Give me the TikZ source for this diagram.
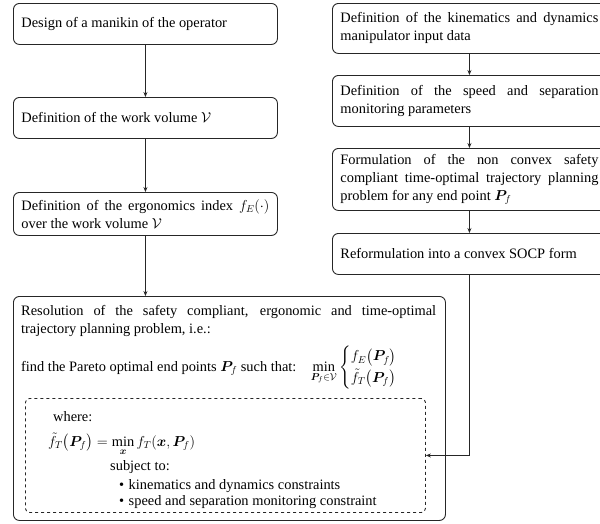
\documentclass[tikz,border=0pt]{standalone}
\usepackage{amsmath}
\usepackage{bm}
\usepackage{fontspec}
\setmainfont{Liberation Serif}
\usetikzlibrary{arrows.meta}
% justified box texts break only between words
\hyphenpenalty=10000
\exhyphenpenalty=10000
\tolerance=10000
\emergencystretch=20pt
\begin{document}
\begin{tikzpicture}[x=1pt,y=-1pt,
  font=\fontsize{14.4}{18}\selectfont,
  frame/.style={draw=black!85, line width=0.9pt, rounded corners=6pt,
    anchor=north west, inner sep=0pt},
  stepbox/.style={frame, inner xsep=8pt, align=justify},
  leftbox/.style={stepbox, text width=248pt, minimum width=264pt},
  rightbox/.style={stepbox, text width=258pt, minimum width=274pt},
  flow/.style={draw=black!85, line width=0.8pt, -{Stealth[length=5pt,width=4pt]}},
  plain/.style={anchor=base west, inner sep=0pt}
]
\useasboundingbox (0,0) rectangle (600,523);

% left column: ergonomic side
\node[leftbox, minimum height=41pt] (manikin) at (13,3) {Design of a manikin of the operator};
\node[leftbox, minimum height=41pt] (volume) at (13,97) {Definition of the work volume $\mathcal{V}$};
\node[leftbox, minimum height=43pt] (ergo) at (13,192) {Definition of the ergonomics index $f_E(\cdot)$ over the work volume $\mathcal{V}$};

% right column: robot side
\node[rightbox, minimum height=50pt] (kin) at (332,3) {Definition of the kinematics and dynamics manipulator input data};
\node[rightbox, minimum height=51pt] (ssm) at (332,75) {Definition of the speed and separation monitoring parameters};
\node[rightbox, minimum height=62pt] (nonconvex) at (332,148) {Formulation of the non convex safety compliant time-optimal trajectory planning problem for any end point $\bm{P}_f$};
\node[rightbox, minimum height=41pt] (socp) at (332,233) {Reformulation into a convex SOCP form};

% final multi-objective problem
\node[frame, minimum width=432pt, minimum height=224pt] (resol) at (13,296) {};
\node[frame, dashed, rounded corners=4pt, minimum width=400pt, minimum height=114pt] (where) at (25,398) {};

\node[anchor=north west, inner sep=0pt, text width=415pt, align=justify] (resoltext) at (21,305)
  {Resolution of the safety compliant, ergonomic and time-optimal trajectory planning problem, i.e.:};
\node[plain] (find) at (21,371)
  {find the Pareto optimal end points $\bm{P}_f$ such that:\quad
   $\min\limits_{\bm{P}_f\in\mathcal{V}}\begin{cases} f_E\bigl(\bm{P}_f\bigr)\\ \tilde{f}_T\bigl(\bm{P}_f\bigr)\end{cases}$};

\node[plain] (wheretext) at (53,421) {where:};
\node[plain] (ftilde) at (48,446)
  {$\tilde{f}_T\bigl(\bm{P}_f\bigr) = \min\limits_{\bm{x}} f_T(\bm{x},\bm{P}_f)$};
\node[plain] (subj) at (110,470) {subject to:};
\node[plain] (c1) at (119,489) {\textbullet\hspace{4.5pt}kinematics and dynamics constraints};
\node[plain] (c2) at (119,505) {\textbullet\hspace{4.5pt}speed and separation monitoring constraint};

% connectors
\draw[flow] (manikin.south) -- (volume.north);
\draw[flow] (volume.south) -- (ergo.north);
\draw[flow] (ergo.south) -- (ergo.south |- resol.north);
\draw[flow] (kin.south) -- (ssm.north);
\draw[flow] (ssm.south) -- (nonconvex.north);
\draw[flow] (nonconvex.south) -- (socp.north);
\draw[flow] (socp.south) |- (where.east);
\end{tikzpicture}
\end{document}
